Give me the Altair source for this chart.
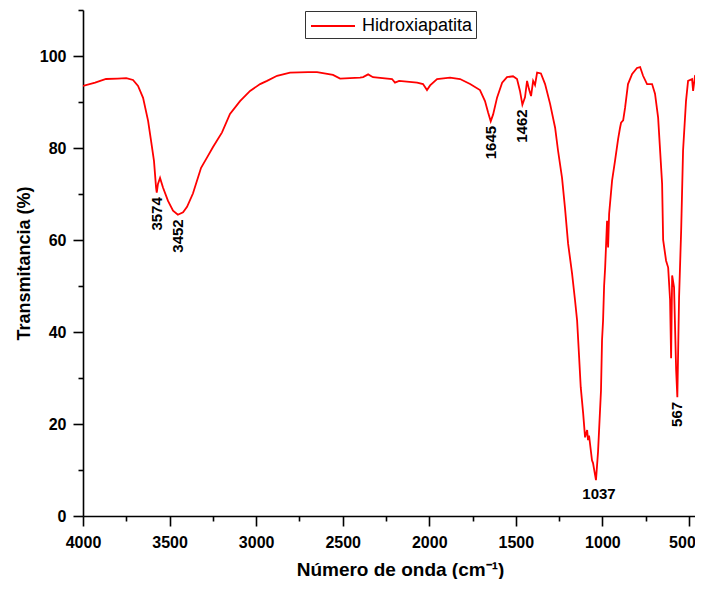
import altair as alt
import pandas as pd

# ---- data ----
wavenumber = [4000, 3930, 3867, 3800, 3750, 3711, 3682, 3653, 3624, 3607, 3590, 3578,
              3574, 3567, 3555, 3538, 3509, 3480, 3452, 3422, 3399, 3365, 3318, 3284,
              3249, 3197, 3151, 3093, 3035, 2977, 2937, 2879, 2804, 2700, 2648, 2556,
              2515, 2458, 2400, 2382, 2353, 2325, 2215, 2198, 2174, 2070, 2036, 2013,
              1995, 1955, 1880, 1822, 1764, 1707, 1678, 1660, 1645, 1631, 1608, 1579,
              1551, 1516, 1493, 1476, 1462, 1447, 1435, 1424, 1412, 1400, 1389, 1377,
              1355, 1331, 1302, 1273, 1256, 1233, 1216, 1198, 1175, 1158, 1146, 1135,
              1125, 1111, 1100, 1088, 1083, 1077, 1060, 1054, 1037, 1025, 1008, 1002,
              996, 990, 984, 973, 967, 961, 944, 927, 909, 898, 892, 880, 869, 852,
              828, 800, 782, 765, 742, 713, 696, 678, 655, 649, 632, 620, 609, 603,
              597, 586, 574, 567, 557, 545, 534, 517, 505, 482, 476, 465, 453, 436, 418]
transmittance = [93.5, 94.2, 95.0, 95.1, 95.2, 94.8, 93.5, 90.9, 85.9, 81.6, 77.2, 71.4,
                 70.3, 72.2, 73.5, 71.4, 68.5, 66.4, 65.5, 66.0, 67.2, 70.1, 75.7, 77.9,
                 80.2, 83.4, 87.4, 90.2, 92.4, 93.9, 94.6, 95.7, 96.4, 96.5, 96.5, 95.9,
                 95.1, 95.2, 95.3, 95.4, 96.0, 95.4, 95.0, 94.2, 94.6, 94.2, 93.9, 92.6,
                 93.6, 95.0, 95.3, 95.0, 93.9, 92.6, 90.2, 87.7, 85.8, 87.3, 91.0, 94.2,
                 95.4, 95.6, 95.0, 92.4, 89.4, 91.0, 94.6, 92.8, 91.3, 94.6, 93.7, 96.4,
                 96.2, 93.9, 89.6, 84.4, 79.4, 73.5, 67.0, 59.2, 52.7, 46.9, 42.5, 35.0,
                 28.0, 22.3, 17.1, 18.7, 16.5, 17.5, 12.1, 11.5, 7.8, 14.0, 27.3, 38.2,
                 42.5, 50.0, 54.0, 64.2, 58.4, 65.7, 72.9, 77.2, 82.0, 84.4, 85.5, 86.0, 88.7, 93.9,
                 96.1, 97.4, 97.6, 95.7, 93.9, 93.9, 91.8, 86.6, 72.2, 60.0, 55.5, 54.0, 47.0, 34.3,
                 52.3, 49.7, 31.8, 25.8, 47.5, 62.0, 79.4, 90.2, 94.6, 95.0, 92.4, 95.7, 95.9, 93.1, 90.2]
series_name = "Hidroxiapatita"

peak_wn = [3574, 3452, 1645, 1462, 567]
peak_t = [70.3, 65.5, 85.8, 89.4, 25.8]
peak_text = ["3574", "3452", "1645", "1462", "567"]
main_peak_wn = [1037]
main_peak_t = [7.8]
main_peak_text = ["1037"]

x_ticks = list(range(4000, 499, -250))
y_ticks = list(range(0, 111, 10))

x_title = "Número de onda (cm⁻¹)"
y_title = "Transmitancia (%)"

# ---- tables ----
spectrum = pd.DataFrame({"wn": wavenumber, "T": transmittance, "serie": series_name})
peaks = pd.DataFrame({"wn": peak_wn, "T": peak_t, "txt": peak_text})
main_peak = pd.DataFrame({"wn": main_peak_wn, "T": main_peak_t, "txt": main_peak_text})

FONT = "Liberation Sans"
x_scale = alt.Scale(domain=[4000, 465], nice=False, zero=False)
y_scale = alt.Scale(domain=[0, 110], nice=False, zero=False)

x_axis = alt.Axis(
    values=x_ticks, format="d", title=x_title,
    labelExpr="datum.value % 500 === 0 ? datum.label : ''",
    tickSize={"condition": {"test": "datum.value % 500 === 0", "value": 10}, "value": 5},
    labelOffset={"condition": {"test": "datum.value === 500", "value": -7}, "value": 0},
    labelFont=FONT, labelFontSize=16, labelFontWeight="bold", labelColor="black",
    labelPadding=8, labelFlush=False, labelOverlap=False,
    titleFont=FONT, titleFontSize=19, titleFontWeight="bold", titleColor="black",
    titleX=317, titleY=59, titleBaseline="alphabetic", titleAnchor="middle",
    domainColor="black", domainWidth=1.6, tickColor="black", tickWidth=1.6, grid=False,
)
y_axis = alt.Axis(
    values=y_ticks, format="d", title=y_title,
    labelExpr="(datum.value % 20 === 0 && datum.value <= 100) ? datum.label : ''",
    tickSize={"condition": {"test": "datum.value % 20 === 0 && datum.value <= 100", "value": 10}, "value": 5},
    labelFont=FONT, labelFontSize=16, labelFontWeight="bold", labelColor="black",
    labelPadding=7, labelOverlap=False, labelFlush=False,
    titleFont=FONT, titleFontSize=18, titleFontWeight="bold", titleColor="black",
    titleX=-54, titleY=253, titleAngle=270, titleBaseline="alphabetic", titleAlign="center",
    domainColor="black", domainWidth=1.6, tickColor="black", tickWidth=1.6, grid=False,
)

line = alt.Chart(spectrum).mark_line(strokeWidth=1.8, clip=True).encode(
    x=alt.X("wn:Q", scale=x_scale, axis=x_axis),
    y=alt.Y("T:Q", scale=y_scale, axis=y_axis),
    color=alt.Color(
        "serie:N",
        scale=alt.Scale(domain=[series_name], range=["#ff0000"]),
        legend=alt.Legend(
            title=None, orient="none", legendX=222, legendY=1,
            strokeColor="#333333", fillColor="white", padding=3,
            symbolType="M-2,0H2", symbolSize=484, symbolStrokeWidth=2,
            symbolOffset=13, labelOffset=17,
            labelFont=FONT, labelFontSize=18, labelColor="black",
        ),
    ),
)

rot_labels = alt.Chart(peaks).transform_calculate(
    ty="datum.T - 1.0"
).mark_text(
    angle=270, align="right", baseline="middle", font=FONT,
    fontSize=15, fontWeight="bold", color="black",
).encode(
    x=alt.X("wn:Q", scale=x_scale),
    y=alt.Y("ty:Q", scale=y_scale),
    text="txt:N",
)

flat_label = alt.Chart(main_peak).mark_text(
    align="center", baseline="top", dx=3, dy=7, font=FONT,
    fontSize=15, fontWeight="bold", color="black",
).encode(
    x=alt.X("wn:Q", scale=x_scale),
    y=alt.Y("T:Q", scale=y_scale),
    text="txt:N",
)

chart = alt.layer(line, rot_labels, flat_label).properties(
    width=612, height=506,
    autosize=alt.AutoSizeParams(type="none"),
    padding={"left": 75, "top": 2, "right": 0, "bottom": 63},
).configure_view(stroke=None)

chart.save("out.html", embed_options={"renderer": "svg", "actions": False})
